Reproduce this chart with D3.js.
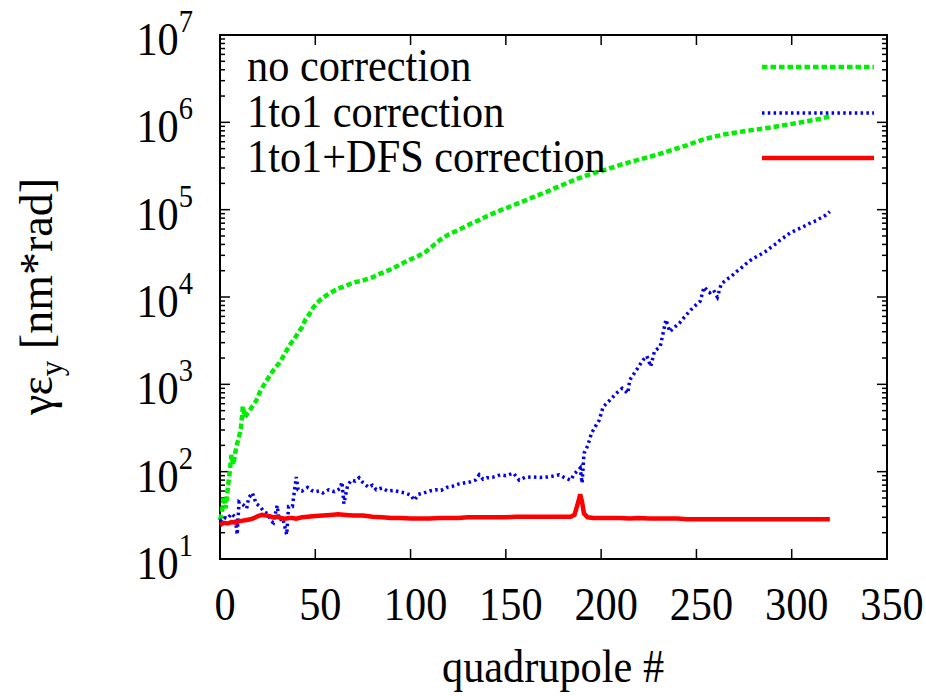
<!DOCTYPE html>
<html>
<head>
<meta charset="utf-8">
<script src="https://cdn.jsdelivr.net/npm/d3@7"></script>
<style>
  body { margin: 0; background: #fff; }
  text { font-family: "Liberation Serif", "DejaVu Serif", serif; fill: #000; }
</style>
</head>
<body>
<div id="chart"></div>
<script>
// quadrupole index and emittance
var quadNoCorr = [0,1,2,3,4,5,6,7,8,9,10,11,12,13,14,15,17,19,21,23,25,27,29,31,33,35,37,39,41,43,45,47,49,51,53,56,59,62,65,68,71,74,77,80,84,88,92,96,100,104,108,112,116,120,124,128,132,136,140,144,148,152,156,160,164,168,172,176,180,184,188,192,196,200,205,210,215,220,225,230,235,240,245,250,255,260,265,270,275,280,285,290,295,300,305,310,315,320];
var valNoCorr = [28,34,52,38,62,95,155,120,165,210,250,320,560,420,450,480,560,650,820,980,1150,1350,1550,1750,2050,2450,2900,3300,3900,4500,5600,6400,7600,8600,9400,10500,11500,12500,13200,14000,14800,15200,16000,16800,18500,20000,22000,24500,27000,29500,33000,39000,46000,52000,57000,63000,70000,76000,84000,92000,100000,108000,117000,127000,138000,150000,162000,178000,193000,210000,228000,245000,262000,278000,300000,325000,350000,375000,400000,430000,465000,505000,545000,600000,650000,690000,730000,760000,790000,820000,850000,880000,920000,960000,1000000,1050000,1100000,1170000];

var quad1to1 = [0,2,4,6,8,9,10,12,14,15,17,19,21,23,25,27,28,30,31,33,35,36,38,40,41,43,46,48,50,52,54,57,60,63,64,65,67,69,71,73,75,78,80,82,85,88,91,94,97,100,102,104,107,110,113,116,119,122,125,128,131,134,136,138,140,143,147,150,154,157,160,164,168,172,175,178,181,184,186,188,189,190,191,193,195,197,199,201,204,208,211,214,215,218,222,224,226,228,231,234,236,239,241,244,247,250,252,254,257,259,261,263,266,268,271,273,276,278,281,284,287,289,292,294,297,299,302,305,308,310,313,315,318,320];
var val1to1 = [27,30,29,33,30,19,45,42,38,50,57,43,40,35,33,27,26,41,28,29,19,40,40,87,62,60,66,61,59,60,57,62,59,64,76,43,70,80,78,85,75,66,70,62,65,60,61,59,57,54,47,55,57,60,62,61,66,68,72,74,76,80,92,82,85,86,92,90,96,80,86,87,86,87,89,92,85,80,95,104,110,74,162,200,278,330,390,550,640,790,900,790,1120,1400,1900,2100,1600,2400,2700,5500,4000,4600,5000,6000,7100,8200,9000,13000,11200,12000,10000,14000,16000,17000,19500,21000,24000,26000,28500,31000,34000,37000,41000,45000,50000,54000,58000,62000,67000,71000,75000,80000,87000,95000];

var quadDFS = [0,2,4,6,8,10,12,14,16,18,20,22,24,26,28,30,32,34,36,38,40,43,46,50,54,58,62,66,70,75,80,85,90,95,100,105,110,115,120,125,130,135,140,145,150,155,160,165,170,175,180,184,186,188,189,190,191,193,196,200,205,210,215,220,225,230,235,240,245,250,255,260,265,270,275,280,285,290,295,300,305,310,315,320];
var valDFS = [24.5,26,25.5,26.5,26,27,27.5,28,28.5,29.5,31,32,31.5,31,30,30.5,29.5,29,29.5,29.5,29,30,30.5,31,31.5,32,32.5,32,31.5,31.5,30.5,30,29.5,29.5,29,29,29,29.5,29.5,29.5,30,30,30,30,30,30.5,30.5,30.5,30.5,30.5,30.5,30.5,32,45,55,45,33,30,29.5,29.5,29.5,29.5,29,29.5,29,29,29,29,28.5,28.5,28.5,28.5,28.5,28.5,28.5,28.5,28.5,28.5,28.5,28.5,28.5,28.5,28.5,28.5];

var seriesNames = ["no correction", "1to1 correction", "1to1+DFS correction"];
var xTicks = [0,50,100,150,200,250,300,350];
var yDecades = [1,2,3,4,5,6,7];

var W = 926, H = 696;
var pLeft = 220, pRight = 887, pTop = 35, pBottom = 559;
var sx = 0.92; // text is a bit narrower than the font

var svg = d3.select("#chart").append("svg").attr("width", W).attr("height", H);

var x = d3.scaleLinear().domain([0, 350]).range([pLeft, pRight]);
var y = d3.scaleLog().domain([10, 1e7]).range([pBottom, pTop]);

function label(str, px, py, anchor, size) {
	return svg.append("g")
		.attr("transform", "translate(" + px + "," + py + ") scale(" + sx + ",1)")
		.append("text")
		.attr("text-anchor", anchor)
		.style("font-size", (size || 46) + "px")
		.text(str);
}

// ticks
var ticks = svg.append("g").attr("stroke", "#000").attr("stroke-width", 1.5);
xTicks.forEach(function(t) {
	ticks.append("line").attr("x1", x(t)).attr("x2", x(t)).attr("y1", pBottom).attr("y2", pBottom - 10);
	ticks.append("line").attr("x1", x(t)).attr("x2", x(t)).attr("y1", pTop).attr("y2", pTop + 10);
	label(String(t), x(t) + 5, 620, "middle");
});
yDecades.forEach(function(d) {
	var v = Math.pow(10, d);
	ticks.append("line").attr("x1", pLeft).attr("x2", pLeft + 10).attr("y1", y(v)).attr("y2", y(v));
	ticks.append("line").attr("x1", pRight).attr("x2", pRight - 10).attr("y1", y(v)).attr("y2", y(v));
	if (d < 7) {
		for (var k = 2; k < 10; k++) {
			ticks.append("line").attr("x1", pLeft).attr("x2", pLeft + 5).attr("y1", y(k * v)).attr("y2", y(k * v));
			ticks.append("line").attr("x1", pRight).attr("x2", pRight - 5).attr("y1", y(k * v)).attr("y2", y(k * v));
		}
	}
	var t = label("10", 193, y(v) + 20, "end");
	t.append("tspan").attr("dy", -23).style("font-size", "31px").text(d);
});

// frame
svg.append("rect")
	.attr("x", pLeft).attr("y", pTop)
	.attr("width", pRight - pLeft).attr("height", pBottom - pTop)
	.attr("fill", "none").attr("stroke", "#000").attr("stroke-width", 2);

// data lines
function series(qs, vs) {
	return d3.line().x(function(d, i) { return x(qs[i]); }).y(function(d) { return y(d); })(vs);
}
var styles = [
	{ color: "#00ee00", width: 4.5, dash: "5.5,3" },
	{ color: "#0000ee", width: 3.5, dash: "2.5,3.3" },
	{ color: "#ff0000", width: 4.5, dash: null }
];
var data = [[quadNoCorr, valNoCorr], [quad1to1, val1to1], [quadDFS, valDFS]];

data.forEach(function(s, i) {
	svg.append("path")
		.attr("d", series(s[0], s[1]))
		.attr("fill", "none")
		.attr("stroke", styles[i].color)
		.attr("stroke-width", styles[i].width)
		.attr("stroke-dasharray", styles[i].dash)
		.attr("stroke-linejoin", "miter");
});

// legend
var legendY = [67, 113, 158];
seriesNames.forEach(function(n, i) {
	label(n, 247, legendY[i] + 14, "start");
	svg.append("line")
		.attr("x1", 762).attr("x2", 874)
		.attr("y1", legendY[i]).attr("y2", legendY[i])
		.attr("stroke", styles[i].color)
		.attr("stroke-width", styles[i].width)
		.attr("stroke-dasharray", styles[i].dash);
});

// axis titles
label("quadrupole #", 553, 682, "middle");
var yl = svg.append("g")
	.attr("transform", "translate(52,415) rotate(-90)")
	.append("text")
	.attr("text-anchor", "start")
	.style("font-size", "46px");
yl.append("tspan").text("γε");
yl.append("tspan").attr("dy", 10).style("font-size", "31px").text("y");
yl.append("tspan").attr("dy", -10).text(" [nm*rad]");
</script>
</body>
</html>
